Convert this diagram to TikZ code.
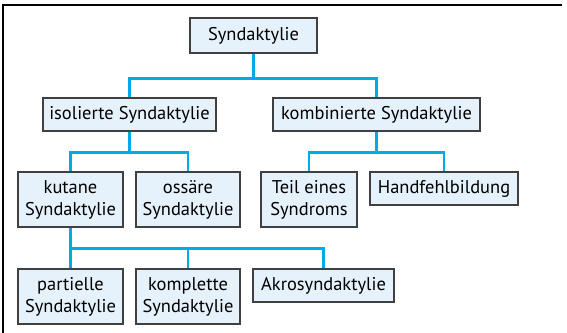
\documentclass[tikz,border=0pt]{standalone}
\usepackage{fontspec}
\setmainfont{PT Sans}
\usepackage{tikz}
\usetikzlibrary{arrows.meta}
\definecolor{boxfill}{RGB}{230,242,251}
\definecolor{linkblue}{RGB}{0,170,230}

\begin{document}
\begin{tikzpicture}[x=0.2mm,y=-0.2mm,
    box/.style={draw=black!75,fill=boxfill,line width=0.7pt,inner sep=2pt,
      minimum height=33*0.2mm,align=center,font=\fontsize{10.5}{12.5}\selectfont},
    link/.style={draw=linkblue,line width=1.3pt}]
        \useasboundingbox (0,0) rectangle (567,333);
        \draw[line width=0.8pt] (562,5) -- (3,5) -- (3,333);
        % boxes
        \node[box,minimum width=127*0.2mm,minimum height=35*0.2mm] (syn) at (253.5,35.5) {Syndaktylie};
        \node[box,minimum width=173*0.2mm] (iso) at (129.5,114.5) {isolierte Syndaktylie};
        \node[box,minimum width=207*0.2mm] (komb) at (376.5,114.5) {kombinierte Syndaktylie};
        \node[box,minimum width=105*0.2mm,minimum height=55*0.2mm] (kut) at (70.5,199.5) {kutane\\Syndaktylie};
        \node[box,minimum width=104*0.2mm,minimum height=55*0.2mm] (oss) at (188,199.5) {ossäre\\Syndaktylie};
        \node[box,minimum width=96*0.2mm,minimum height=55*0.2mm] (teil) at (309,199.5) {Teil eines\\Syndroms};
        \node[box,minimum width=148*0.2mm] (hand) at (444,188.5) {Handfehlbildung};
        \node[box,minimum width=105*0.2mm,minimum height=55*0.2mm] (part) at (70.5,296.5) {partielle\\Syndaktylie};
        \node[box,minimum width=104*0.2mm,minimum height=55*0.2mm] (kompl) at (188,296.5) {komplette\\Syndaktylie};
        \node[box,minimum width=141*0.2mm] (akro) at (323.5,285.5) {Akrosyndaktylie};
        % connectors
        \draw[link] (syn.south) -- ++(0,25) -| (iso.north);
        \draw[link] (syn.south) -- ++(0,25) -| (komb.north);
        \draw[link] (iso.south) -- ++(0,21) -| (kut.north);
        \draw[link] (iso.south) -- ++(0,21) -| (oss.north);
        \draw[link] (komb.south) -- ++(0,21) -| (teil.north);
        \draw[link] (komb.south) -- ++(0,21) -| (hand.north);
        \draw[link] (kut.south) -- ++(0,21) -| (kompl.north);
        \draw[link] (kut.south) -- ++(0,21) -| (akro.north);
        \draw[link] (kut.south) -- (part.north);
      \end{tikzpicture}
\end{document}
